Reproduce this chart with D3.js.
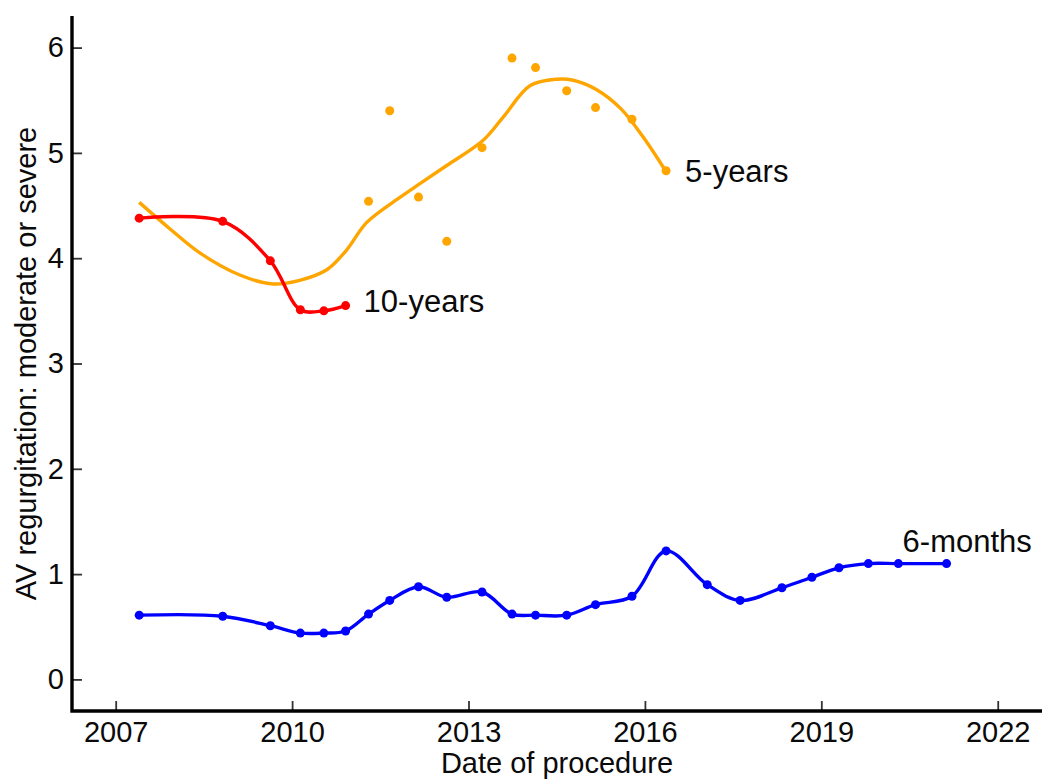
<!DOCTYPE html>
<html><head><meta charset="utf-8">
<script src="https://cdn.jsdelivr.net/npm/d3@7"></script>
<style>body{margin:0;background:#fff}svg{display:block}</style>
</head><body><svg id="c" width="1042" height="779"></svg>
<script>
// ---- data ----
const sixMonthsDates = [2007.40, 2008.82, 2009.63, 2010.14, 2010.54, 2010.91, 2011.30, 2011.66, 2012.15, 2012.63, 2013.23, 2013.74, 2014.14, 2014.67, 2015.16, 2015.78, 2016.36, 2017.06, 2017.62, 2018.33, 2018.84, 2019.30, 2019.80, 2020.31, 2021.13];
const sixMonthsValues = [0.61, 0.60, 0.51, 0.44, 0.44, 0.46, 0.62, 0.75, 0.88, 0.78, 0.83, 0.62, 0.61, 0.61, 0.71, 0.79, 1.22, 0.90, 0.75, 0.87, 0.97, 1.06, 1.10, 1.10, 1.10];
const tenYearsDates = [2007.40, 2008.82, 2009.63, 2010.14, 2010.54, 2010.91];
const tenYearsValues = [4.38, 4.35, 3.975, 3.51, 3.50, 3.55];
const fiveYearsDates = [2011.30, 2011.66, 2012.15, 2012.63, 2013.23, 2013.74, 2014.14, 2014.67, 2015.16, 2015.78, 2016.36];
const fiveYearsValues = [4.54, 5.40, 4.58, 4.16, 5.05, 5.90, 5.81, 5.59, 5.43, 5.32, 4.83];
const fiveYearsFitDates = [2007.40, 2007.92, 2008.43, 2009.11, 2009.68, 2010.13, 2010.59, 2010.93, 2011.27, 2011.84, 2012.18, 2012.63, 2013.25, 2013.59, 2014.05, 2014.50, 2014.78, 2015.18, 2015.59, 2015.97, 2016.34];
const fiveYearsFitValues = [4.53, 4.28, 4.05, 3.84, 3.755, 3.79, 3.89, 4.08, 4.34, 4.58, 4.71, 4.88, 5.12, 5.34, 5.64, 5.70, 5.69, 5.60, 5.42, 5.15, 4.84];
const xTicks = [2007, 2010, 2013, 2016, 2019, 2022];
const yTicks = [0, 1, 2, 3, 4, 5, 6];
const seriesLabels = ["6-months", "5-years", "10-years"];
const xTitle = "Date of procedure";
const yTitle = "AV regurgitation: moderate or severe";

// ---- chart ----
const FONT = "'Liberation Sans', Arial, Helvetica, sans-serif";
const svg = d3.select("#c");
const pL = 72, pR = 1042, pT = 16, pB = 711;
const x = d3.scaleLinear().domain([2006.257, 2022.753]).range([pL, pR]);
const y = d3.scaleLinear().domain([-0.30, 6.30]).range([pB, pT]);

const zip = (a, b) => a.map((d, i) => [d, b[i]]);
const line = d3.line().x(d => x(d[0])).y(d => y(d[1])).curve(d3.curveCatmullRom.alpha(0.5));

// axes
const yAxis = svg.append("g").attr("transform", `translate(${pL},0)`)
  .call(d3.axisLeft(y).tickValues(yTicks).tickFormat(d3.format("d")).tickSize(-10).tickSizeOuter(0).tickPadding(8));
const xAxis = svg.append("g").attr("transform", `translate(0,${pB})`)
  .call(d3.axisBottom(x).tickValues(xTicks).tickFormat(d3.format("d")).tickSize(-10).tickSizeOuter(0).tickPadding(10));
[yAxis, xAxis].forEach(g => {
  g.select(".domain").remove();
  g.selectAll(".tick line").attr("stroke", "#333").attr("stroke-width", 1.8);
  g.selectAll(".tick text").attr("font-family", FONT).attr("font-size", 29).attr("fill", "#0a0a0a");
});
svg.append("path")
  .attr("d", `M${pL},${pT}V${pB}H${pR}`)
  .attr("fill", "none").attr("stroke", "#000").attr("stroke-width", 3.4)
  .attr("stroke-linejoin", "miter");

// titles
svg.append("text").attr("x", (pL + pR) / 2).attr("y", 773).attr("text-anchor", "middle")
  .attr("font-family", FONT).attr("font-size", 29).attr("fill", "#0a0a0a").text(xTitle);
svg.append("text").attr("transform", `translate(36,${(pT + pB) / 2}) rotate(-90)`).attr("text-anchor", "middle")
  .attr("font-family", FONT).attr("font-size", 29).attr("fill", "#0a0a0a").text(yTitle);

// 5-years: fitted curve + dots
svg.append("path").datum(zip(fiveYearsFitDates, fiveYearsFitValues))
  .attr("d", line).attr("fill", "none").attr("stroke", "#FFA500").attr("stroke-width", 3.4);
svg.append("g").selectAll("circle").data(zip(fiveYearsDates, fiveYearsValues)).join("circle")
  .attr("cx", d => x(d[0])).attr("cy", d => y(d[1])).attr("r", 4.5).attr("fill", "#FFA500");

// 10-years
svg.append("path").datum(zip(tenYearsDates, tenYearsValues))
  .attr("d", line).attr("fill", "none").attr("stroke", "#FF0000").attr("stroke-width", 3.4);
svg.append("g").selectAll("circle").data(zip(tenYearsDates, tenYearsValues)).join("circle")
  .attr("cx", d => x(d[0])).attr("cy", d => y(d[1])).attr("r", 4.5).attr("fill", "#FF0000");

// 6-months
svg.append("path").datum(zip(sixMonthsDates, sixMonthsValues))
  .attr("d", line).attr("fill", "none").attr("stroke", "#0000FF").attr("stroke-width", 3.4);
svg.append("g").selectAll("circle").data(zip(sixMonthsDates, sixMonthsValues)).join("circle")
  .attr("cx", d => x(d[0])).attr("cy", d => y(d[1])).attr("r", 4.5).attr("fill", "#0000FF");

// series labels (anchored to last points)
const lastOf = (ds, vs) => [ds[ds.length - 1], vs[vs.length - 1]];
const labelSpecs = [
  { text: seriesLabels[0], p: lastOf(sixMonthsDates, sixMonthsValues), dx: -44, dy: -12 },
  { text: seriesLabels[1], p: lastOf(fiveYearsDates, fiveYearsValues), dx: 19, dy: 11 },
  { text: seriesLabels[2], p: lastOf(tenYearsDates, tenYearsValues), dx: 18, dy: 6.5 }
];
svg.append("g").selectAll("text").data(labelSpecs).join("text")
  .attr("x", d => x(d.p[0]) + d.dx).attr("y", d => y(d.p[1]) + d.dy)
  .attr("font-family", FONT).attr("font-size", 31).attr("fill", "#0a0a0a").text(d => d.text);
</script>
</body></html>
